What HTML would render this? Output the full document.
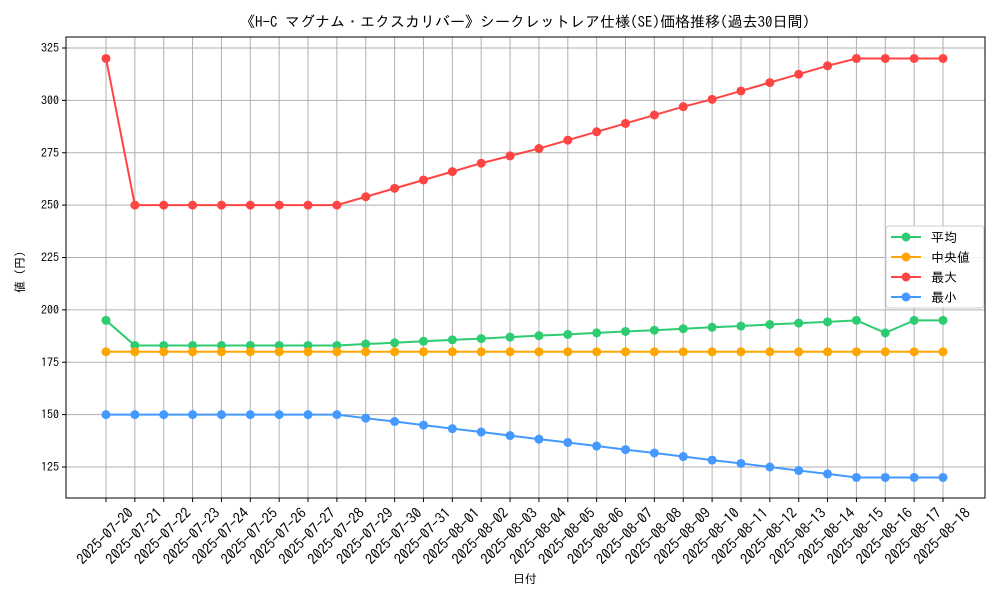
<!DOCTYPE html>
<html><head><meta charset="utf-8"><style>
html,body{margin:0;padding:0;background:#fff;}
svg text{font-family:"IPAGothic","Noto Sans CJK JP",sans-serif;fill:#000;}
</style></head><body>
<svg id="chart" width="1000" height="600" xmlns="http://www.w3.org/2000/svg">
<rect width="1000" height="600" fill="#fff"/>
<text x="525" y="27" font-size="15" text-anchor="middle">《H-C マグナム・エクスカリバー》シークレットレア仕様(SE)価格推移(過去30日間)</text>
<g id="grid"></g>
<g id="axes"></g>
<g id="series"></g>
<rect x="66" y="37" width="919" height="461" fill="none" stroke="#000" stroke-width="1"/>
<text x="525" y="583" font-size="12" text-anchor="middle">日付</text>
<text x="24" y="272" font-size="12" text-anchor="middle" transform="rotate(-90 24 272)">値 (円)</text>
<g id="legend"></g>
</svg>
<script>
const dates=["2025-07-20","2025-07-21","2025-07-22","2025-07-23","2025-07-24","2025-07-25","2025-07-26","2025-07-27","2025-07-28","2025-07-29","2025-07-30","2025-07-31","2025-08-01","2025-08-02","2025-08-03","2025-08-04","2025-08-05","2025-08-06","2025-08-07","2025-08-08","2025-08-09","2025-08-10","2025-08-11","2025-08-12","2025-08-13","2025-08-14","2025-08-15","2025-08-16","2025-08-17","2025-08-18"];
const avgValues=[195,183,183,183,183,183,183,183,183,183.7,184.3,185,185.7,186.3,187,187.7,188.3,189,189.7,190.3,191,191.7,192.3,193,193.7,194.3,195,189,195,195];
const medianValues=[180,180,180,180,180,180,180,180,180,180,180,180,180,180,180,180,180,180,180,180,180,180,180,180,180,180,180,180,180,180];
const maxValues=[320,250,250,250,250,250,250,250,250,254,258,262,266,270,273.5,277,281,285,289,293,297,300.5,304.5,308.5,312.5,316.5,320,320,320,320];
const minValues=[150,150,150,150,150,150,150,150,150,148.3,146.7,145,143.3,141.7,140,138.3,136.7,135,133.3,131.7,130,128.3,126.7,125,123.3,121.7,120,120,120,120];
const yTicks=[125,150,175,200,225,250,275,300,325];
const seriesNames=["平均","中央値","最大","最小"];
const NS="http://www.w3.org/2000/svg";
const xPos=i=>106+i*(943-106)/(dates.length-1);
const yPos=v=>48+(325-v)*(467-48)/200;
function mk(tag,attrs,parent){const e=document.createElementNS(NS,tag);for(const k in attrs)e.setAttribute(k,attrs[k]);parent.appendChild(e);return e;}
const grid=document.getElementById('grid'),axes=document.getElementById('axes'),ser=document.getElementById('series'),leg=document.getElementById('legend');
yTicks.forEach(t=>{const y=yPos(t);
 const g=mk('line',{x1:66,x2:985,y1:y,y2:y,stroke:'#b0b0b0','stroke-width':1},grid);
 
 
 mk('line',{x1:62,x2:66,y1:y,y2:y,stroke:'#000'},axes);
 const tx=mk('text',{x:59,y:y+4,'font-size':12,'text-anchor':'end'},axes);tx.textContent=t;
 
 
});
dates.forEach((d,i)=>{const x=xPos(i);
 const g=mk('line',{x1:x,x2:x,y1:37,y2:498,stroke:'#b0b0b0','stroke-width':1},grid);
 
 
 mk('line',{x1:x,x2:x,y1:498,y2:502,stroke:'#000'},axes);
 const tx=mk('text',{x:0,y:0,dy:'0.35em','font-size':14.5,'text-anchor':'middle',transform:`translate(${x-1} 536) rotate(-45)`},axes);tx.textContent=d;
 
 
});
const all=[[avgValues,'#2ecc71','avg'],[medianValues,'#ffa500','median'],[maxValues,'#ff4444','max'],[minValues,'#4499ff','min']];
all.forEach(([vals,c,n])=>{
 const p=mk('polyline',{points:vals.map((v,i)=>xPos(i)+','+yPos(v)).join(' '),fill:'none',stroke:c,'stroke-width':2},ser);
 
 
 vals.forEach((v,i)=>{const ci=mk('circle',{cx:xPos(i),cy:yPos(v),r:4.5,fill:c},ser);
  
  });
});
const lb=mk('rect',{x:886,y:226,width:98,height:82,rx:3,fill:'#fff','fill-opacity':0.85,stroke:'#ccc'},leg);


all.forEach(([v,c,n],k)=>{const y=237+k*20;
 const g=mk('g',{},leg);
 
 
 mk('line',{x1:891,x2:921,y1:y,y2:y,stroke:c,'stroke-width':2},g);
 mk('circle',{cx:906,cy:y,r:4.5,fill:c},g);
 const t=mk('text',{x:931,y:y+5,'font-size':13},g);t.textContent=seriesNames[k];
});
</script>
</body></html>
